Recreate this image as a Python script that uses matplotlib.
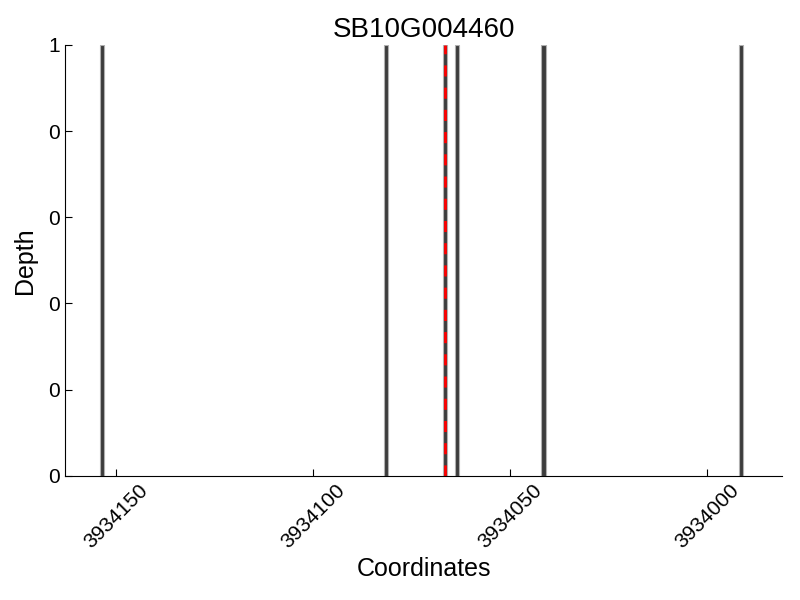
import numpy as np
import matplotlib
matplotlib.use("Agg")
import matplotlib.pyplot as plt
from matplotlib.ticker import FormatStrFormatter

plt.rcParams['font.family'] = ['Liberation Sans', 'DejaVu Sans']

# coverage data
title = "SB10G004460"
positions = [3934153, 3934081, 3934066, 3934063, 3934041, 3933991]
depths = [1, 1, 1, 1, 1, 1]
marker_pos = 3934066.5
x_ticks = [3934150, 3934100, 3934050, 3934000]


def plot_depth():
    fig = plt.figure(figsize=(8, 6), dpi=100)
    ax = fig.add_axes([0.081, 0.207, 0.897, 0.718])

    ax.bar(positions, depths, width=1.1, align='edge', color='#3c3c3c',
           edgecolor='#b0b0b0', linewidth=0.8)
    ax.axvline(marker_pos, color='red', linestyle='--', linewidth=2, dashes=(4, 4))

    ax.set_xlim(3934163, 3933981)
    ax.set_ylim(0, 1)
    ax.set_xticks(x_ticks)
    ax.set_xticklabels([str(t) for t in x_ticks], rotation=45, fontsize=15)
    ax.set_yticks([0, 0.2, 0.4, 0.6, 0.8, 1.0])
    ax.yaxis.set_major_formatter(FormatStrFormatter('%d'))
    ax.tick_params(axis='y', labelsize=15)
    ax.tick_params(direction='in', top=False, right=False, length=5)

    ax.spines['top'].set_visible(False)
    ax.spines['right'].set_visible(False)

    ax.set_title(title, fontsize=20)
    ax.set_xlabel("Coordinates", fontsize=18)
    ax.set_ylabel("Depth", fontsize=18, labelpad=8)

    fig.savefig("out.png", dpi=100)


if __name__ == "__main__":
    plot_depth()
